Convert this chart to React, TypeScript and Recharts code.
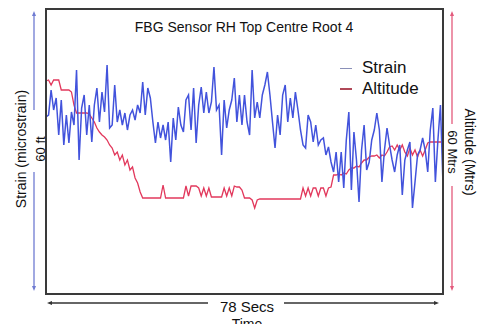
import React from 'react';
import { LineChart, Line, XAxis, YAxis, Legend } from 'recharts';

// one sample every half second over the 78 s flight
const SAMPLE_STEP = 0.5;

const strain = [
  177, 179, 204, 184, 196, 159, 194, 149, 179, 151, 182, 169, 224, 134, 186, 199,
  159, 189, 152, 189, 206, 172, 202, 182, 229, 166, 169, 209, 172, 184, 169, 181,
  164, 179, 184, 174, 189, 181, 212, 179, 206, 196, 172, 151, 172, 156, 169, 154,
  172, 132, 176, 154, 187, 169, 162, 194, 199, 164, 206, 151, 189, 207, 181, 202,
  181, 192, 227, 184, 189, 139, 194, 166, 184, 194, 216, 172, 199, 169, 199, 172,
  159, 224, 176, 192, 176, 199, 209, 222, 199, 172, 146, 179, 159, 199, 209, 172,
  196, 176, 202, 184, 164, 149, 146, 179, 172, 152, 169, 149, 154, 156, 139, 147,
  132, 122, 142, 112, 142, 106, 154, 182, 104, 162, 134, 92, 144, 169, 124, 132,
  154, 164, 181, 164, 112, 144, 166, 149, 134, 122, 139, 149, 99, 134, 144, 152,
  86, 112, 139, 144, 156, 144, 122, 164, 186, 112, 154, 189, 109,
];

const altitude = [
  213, 214, 209, 214, 214, 214, 204, 204, 204, 204, 202, 189, 181, 181, 181, 181,
  181, 180, 176, 172, 166, 162, 159, 157, 154, 149, 146, 139, 142, 134, 139, 129,
  134, 124, 127, 116, 111, 102, 96, 96, 96, 96, 96, 96, 96, 96, 109, 96,
  96, 96, 96, 96, 96, 96, 96, 108, 98, 108, 108, 108, 106, 98, 106, 98,
  106, 97, 97, 97, 97, 97, 106, 98, 106, 98, 108, 107, 107, 104, 96, 96,
  96, 94, 86, 94, 95, 95, 95, 95, 95, 95, 95, 95, 95, 95, 95, 95,
  95, 95, 95, 95, 95, 106, 98, 106, 98, 106, 106, 98, 106, 106, 98, 106,
  107, 119, 119, 120, 119, 121, 120, 124, 126, 126, 128, 127, 131, 134, 134, 137,
  138, 138, 139, 136, 139, 138, 142, 147, 148, 144, 149, 144, 149, 142, 138, 146,
  139, 144, 137, 144, 138, 144, 151, 152, 152, 152, 152, 152, 152,
];

const seriesNames = ['Strain', 'Altitude'];

const data = strain.map((s, i) => ({
  time: i * SAMPLE_STEP,
  Strain: s,
  Altitude: altitude[i],
}));

const BLUE = '#4253dc';
const RED = '#e2385c';
const FONT = '"Liberation Sans", Arial, sans-serif';

function LegendBox() {
  const marks = ['#8a90b8', '#b04858'];
  return (
    <div style={{ fontFamily: FONT, fontSize: 17, lineHeight: '20.5px', color: '#111' }}>
      {seriesNames.map((n, i) => (
        <div key={n} style={{ display: 'flex', alignItems: 'center' }}>
          <span style={{ display: 'inline-block', width: 12, height: 1.5, background: marks[i], marginRight: 10 }} />
          {n}
        </div>
      ))}
    </div>
  );
}

function Decorations() {
  const arrowV = (x: number, color: string, gapFrom: number, gapTo: number) => (
    <g stroke={color} fill={color} strokeWidth={1.3}>
      <line x1={x} y1={14} x2={x} y2={gapFrom} />
      <line x1={x} y1={gapTo} x2={x} y2={288} />
      <path d={`M${x - 2},16 L${x},11 L${x + 2},16 Z`} stroke="none" />
      <path d={`M${x - 2},286 L${x},291 L${x + 2},286 Z`} stroke="none" />
    </g>
  );
  return (
    <svg width={486} height={324} style={{ position: 'absolute', left: 0, top: 0, pointerEvents: 'none' }}>
      {/* frame around the plot area */}
      <rect x={46} y={9} width={397} height={285} fill="none" stroke="#3a3a3a" strokeWidth={2} />
      {arrowV(34, '#6f7bd2', 110, 172)}
      {arrowV(452, '#e35a7c', 124, 186)}
      <g stroke="#333" fill="#333" strokeWidth={1.3}>
        <line x1={50} y1={303} x2={208} y2={303} />
        <line x1={284} y1={303} x2={436} y2={303} />
        <path d="M52,301 L47,303 L52,305 Z" stroke="none" />
        <path d="M434,301 L439,303 L434,305 Z" stroke="none" />
      </g>
      <g fontFamily={FONT} fill="#111">
        <text x={244} y={32} fontSize={14} textAnchor="middle">FBG Sensor RH Top Centre Root 4</text>
        <text x={21} y={149} fontSize={14} textAnchor="middle" dominantBaseline="central" transform="rotate(-90 21 149)">
          Strain (microstrain)
        </text>
        <text x={40} y={149} fontSize={13} textAnchor="middle" dominantBaseline="central" transform="rotate(-90 40 149)">
          60 ft
        </text>
        <text x={470} y={152} fontSize={14} textAnchor="middle" dominantBaseline="central" transform="rotate(90 470 152)">
          Altitude (Mtrs)
        </text>
        <text x={452} y={152} fontSize={13} textAnchor="middle" dominantBaseline="central" transform="rotate(90 452 152)">
          60 Mtrs
        </text>
        <text x={247} y={306} fontSize={15} textAnchor="middle" dominantBaseline="central">78 Secs</text>
        <text x={247} y={329} fontSize={14} textAnchor="middle">Time</text>
      </g>
    </svg>
  );
}

export default function App() {
  return (
    <div style={{ position: 'fixed', left: 0, top: 0, width: 486, height: 324, overflow: 'hidden', background: '#fff' }}>
      <LineChart width={486} height={324} data={data} margin={{ top: 9, right: 43, bottom: 30, left: 46 }}>
        <XAxis dataKey="time" type="number" domain={[0, 78]} height={0} tick={false} tickLine={false} axisLine={false} />
        <YAxis yAxisId="strain" domain={[0, 285]} width={0} tick={false} tickLine={false} axisLine={false} />
        <YAxis yAxisId="alt" orientation="right" domain={[0, 285]} width={0} tick={false} tickLine={false}
          axisLine={false} />
        <Legend layout="vertical" align="center" verticalAlign="middle" content={<LegendBox />}
          wrapperStyle={{ left: 340, top: 58, width: 'auto' }} />
        <Line yAxisId="alt" type="linear" dataKey="Altitude" stroke={RED} strokeWidth={1.3} dot={false}
          isAnimationActive={false} />
        <Line yAxisId="strain" type="linear" dataKey="Strain" stroke={BLUE} strokeWidth={1.5} dot={false}
          isAnimationActive={false} />
      </LineChart>
      <Decorations />
    </div>
  );
}
